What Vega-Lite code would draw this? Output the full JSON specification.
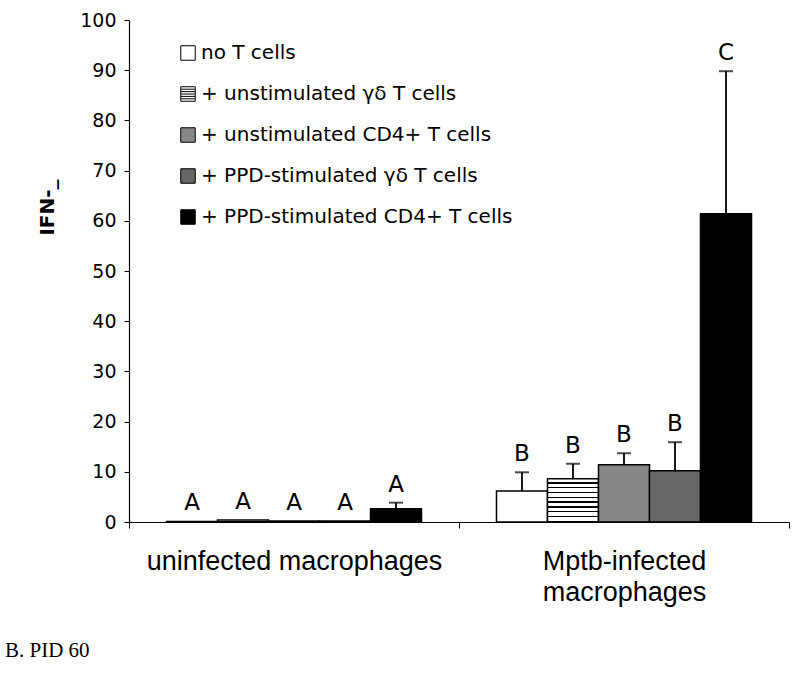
{
  "$schema": "https://vega.github.io/schema/vega-lite/v6.json",
  "width": 660,
  "height": 502,
  "autosize": {"type": "none"},
  "padding": {"left": 129, "top": 20, "right": 11, "bottom": 153},
  "background": "white",
  "config": {"view": {"stroke": null}, "font": "DejaVu Sans"},
  "title": {"text": "B. PID 60", "orient": "bottom", "anchor": "start", "frame": "group", "font": "Liberation Serif", "fontSize": 21, "fontWeight": "normal", "color": "black", "dx": -124, "offset": 35},
  "data": {"values": [
    {"group": "uninfected macrophages", "series": "no T cells", "value": 0.1, "hi": 0.1, "letter": "A"},
    {"group": "uninfected macrophages", "series": "+ unstimulated γδ T cells", "value": 0.4, "hi": 0.4, "letter": "A"},
    {"group": "uninfected macrophages", "series": "+ unstimulated CD4+ T cells", "value": 0.2, "hi": 0.2, "letter": "A"},
    {"group": "uninfected macrophages", "series": "+ PPD-stimulated γδ T cells", "value": 0.2, "hi": 0.2, "letter": "A"},
    {"group": "uninfected macrophages", "series": "+ PPD-stimulated CD4+ T cells", "value": 2.65, "hi": 3.85, "letter": "A"},
    {"group": "Mptb-infected macrophages", "series": "no T cells", "value": 6.2, "hi": 9.9, "letter": "B"},
    {"group": "Mptb-infected macrophages", "series": "+ unstimulated γδ T cells", "value": 8.6, "hi": 11.6, "letter": "B"},
    {"group": "Mptb-infected macrophages", "series": "+ unstimulated CD4+ T cells", "value": 11.4, "hi": 13.7, "letter": "B"},
    {"group": "Mptb-infected macrophages", "series": "+ PPD-stimulated γδ T cells", "value": 10.2, "hi": 15.9, "letter": "B"},
    {"group": "Mptb-infected macrophages", "series": "+ PPD-stimulated CD4+ T cells", "value": 61.4, "hi": 89.8, "letter": "C"}
  ]},
  "encoding": {
    "x": {
      "field": "group", "type": "nominal",
      "sort": ["uninfected macrophages", "Mptb-infected macrophages"],
      "scale": {"paddingInner": 0, "paddingOuter": 0},
      "axis": {
        "title": null, "labelAngle": 0, "tickBand": "extent", "tickSize": 6,
        "domainColor": "black", "tickColor": "black", "domainWidth": 1.2,
        "labelFont": "Liberation Sans", "labelFontSize": 27, "labelColor": "black",
        "labelPadding": 20, "labelLineHeight": 31, "labelBaseline": "top", "labelLimit": 400,
        "labelExpr": "datum.value == 'Mptb-infected macrophages' ? ['Mptb-infected', 'macrophages'] : datum.value"
      }
    },
    "xOffset": {
      "field": "series", "type": "nominal",
      "sort": ["no T cells", "+ unstimulated γδ T cells", "+ unstimulated CD4+ T cells", "+ PPD-stimulated γδ T cells", "+ PPD-stimulated CD4+ T cells"],
      "scale": {"paddingInner": 0, "paddingOuter": 0.735}
    }
  },
  "layer": [
    {
      "mark": {"type": "bar", "stroke": "black", "strokeWidth": 1.5},
      "encoding": {
        "y": {
          "field": "value", "type": "quantitative",
          "scale": {"domain": [0, 100], "nice": false},
          "axis": {
            "values": [0, 10, 20, 30, 40, 50, 60, 70, 80, 90, 100],
            "grid": false, "tickSize": 5, "labelPadding": 8, "labelFontSize": 19, "labelColor": "black",
            "domainColor": "black", "tickColor": "black", "domainWidth": 1.2,
            "title": "IFN-_", "titleFontSize": 20, "titleFontWeight": "bold", "titleColor": "black",
            "titleAngle": -90, "titleX": -82, "titleY": 187, "titleAlign": "center", "titleBaseline": "middle"
          }
        },
        "fill": {
          "condition": {
            "test": "datum.series == '+ unstimulated γδ T cells'",
            "value": {"gradient": "linear", "x1": 0, "y1": 0, "x2": 0, "y2": 1, "stops": [
              {"offset": 0, "color": "white"}, {"offset": 0.08, "color": "white"}, {"offset": 0.08, "color": "black"}, {"offset": 0.111, "color": "black"},
              {"offset": 0.111, "color": "white"}, {"offset": 0.191, "color": "white"}, {"offset": 0.191, "color": "black"}, {"offset": 0.222, "color": "black"},
              {"offset": 0.222, "color": "white"}, {"offset": 0.302, "color": "white"}, {"offset": 0.302, "color": "black"}, {"offset": 0.333, "color": "black"},
              {"offset": 0.333, "color": "white"}, {"offset": 0.413, "color": "white"}, {"offset": 0.413, "color": "black"}, {"offset": 0.444, "color": "black"},
              {"offset": 0.444, "color": "white"}, {"offset": 0.524, "color": "white"}, {"offset": 0.524, "color": "black"}, {"offset": 0.556, "color": "black"},
              {"offset": 0.556, "color": "white"}, {"offset": 0.636, "color": "white"}, {"offset": 0.636, "color": "black"}, {"offset": 0.667, "color": "black"},
              {"offset": 0.667, "color": "white"}, {"offset": 0.747, "color": "white"}, {"offset": 0.747, "color": "black"}, {"offset": 0.778, "color": "black"},
              {"offset": 0.778, "color": "white"}, {"offset": 0.858, "color": "white"}, {"offset": 0.858, "color": "black"}, {"offset": 0.889, "color": "black"},
              {"offset": 0.889, "color": "white"}, {"offset": 0.969, "color": "white"}, {"offset": 0.969, "color": "black"}, {"offset": 1, "color": "black"}
            ]}
          },
          "field": "series", "type": "nominal",
          "sort": ["no T cells", "+ unstimulated γδ T cells", "+ unstimulated CD4+ T cells", "+ PPD-stimulated γδ T cells", "+ PPD-stimulated CD4+ T cells"],
          "scale": {"range": ["white", "white", "#878787", "#666666", "black"]},
          "legend": {
            "title": null, "orient": "none", "legendX": 49, "legendY": 23, "padding": 0,
            "symbolType": "square", "symbolSize": 210, "symbolStrokeColor": "black", "symbolStrokeWidth": 1,
            "labelFontSize": 20, "labelColor": "black", "labelOffset": 3, "rowPadding": 21, "labelLimit": 400,
            "encode": {"symbols": {"update": {
              "stroke": {"value": "black"},
              "strokeWidth": {"value": 1},
              "shape": {"signal": "datum.value === '+ unstimulated γδ T cells' ? 'M-1,-1H1V1H-1Z M-1,-0.66H1 M-1,-0.33H1 M-1,0H1 M-1,0.33H1 M-1,0.66H1' : 'square'"}
            }}}
          }
        }
      }
    },
    {
      "transform": [{"filter": "datum.hi > datum.value"}],
      "mark": {"type": "rule", "color": "black", "strokeWidth": 1.8},
      "encoding": {"y": {"field": "value", "type": "quantitative"}, "y2": {"field": "hi"}}
    },
    {
      "transform": [{"filter": "datum.hi > datum.value"}],
      "mark": {"type": "tick", "color": "black", "size": 14, "thickness": 2},
      "encoding": {"y": {"field": "hi", "type": "quantitative"}}
    },
    {
      "mark": {"type": "text", "baseline": "alphabetic", "dy": -11, "fontSize": 23, "color": "black"},
      "encoding": {"y": {"field": "hi", "type": "quantitative"}, "text": {"field": "letter"}}
    }
  ]
}
